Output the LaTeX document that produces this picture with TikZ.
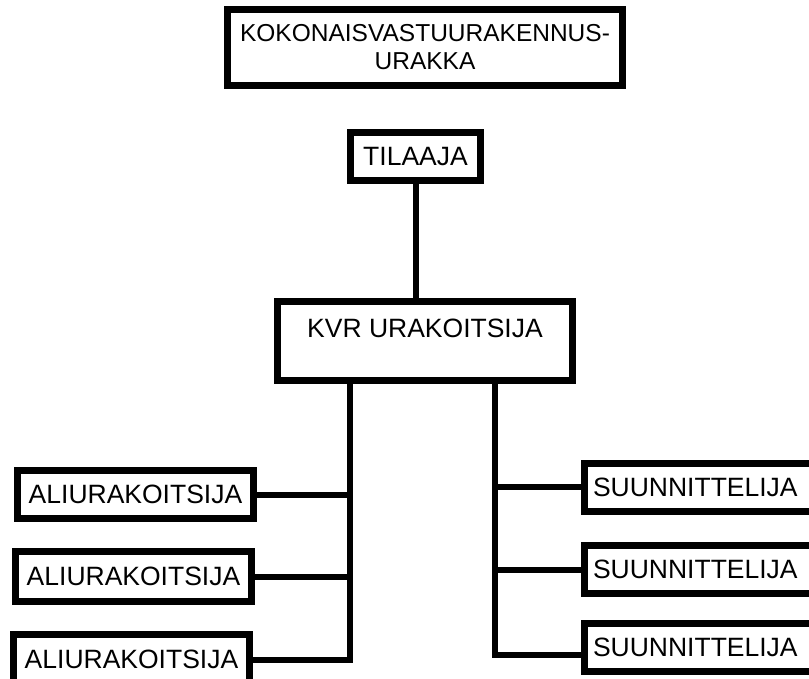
\documentclass[tikz,border=0pt]{standalone}
\usepackage{fontspec}
\setmainfont{Liberation Sans}
\begin{document}
\begin{tikzpicture}[x=1pt,y=-1pt,
  box/.style={draw, line width=7pt, rectangle, inner sep=0pt, font=\fontsize{26.5}{30}\selectfont},
  rbox/.style={box, anchor=west, text width=215pt, align=left, inner xsep=8.5pt, minimum height=48pt},
  link/.style={line width=6pt}]
\useasboundingbox (0,0) rectangle (809,678);
\clip (0,0) rectangle (809,678);
\node[box, line width=6.5pt, font=\fontsize{24.5}{28}\selectfont, align=center, minimum width=395pt, minimum height=76pt] (title) at (425,47.5) {KOKONAISVASTUURAKENNUS-\\URAKKA};
\node[box, minimum width=130pt, minimum height=48pt] (tilaaja) at (415.5,156.5) {TILAAJA};
\node[box, minimum width=295pt, text height=35.5pt, text depth=43.5pt] (kvr) at (425,341) {KVR URAKOITSIJA};
\node[box, minimum width=236pt, minimum height=48pt] (l1) at (135.5,494.5) {ALIURAKOITSIJA};
\node[box, minimum width=236pt, minimum height=50pt] (l2) at (133.5,576.5) {ALIURAKOITSIJA};
\node[box, anchor=north, minimum width=236pt, text height=34.5pt, text depth=25.5pt] (l3) at (131.5,630.5) {ALIURAKOITSIJA};
\node[rbox] (r1) at (581,487) {SUUNNITTELIJA};
\node[rbox] (r2) at (581,569.5) {SUUNNITTELIJA};
\node[rbox] (r3) at (581,647.5) {SUUNNITTELIJA};
\coordinate (kl) at ([xshift=-75pt]kvr.south);
\coordinate (kr) at ([xshift=70pt]kvr.south);
\coordinate (jl) at (350,660);
\coordinate (jr) at (495,655);
\draw[link] (tilaaja.south) -- (tilaaja.south |- kvr.north);
\draw[link] (kl) -- (jl) -- (jl -| l3.east);
\draw[link] (l1.east) -- (l1.east -| kl);
\draw[link] (l2.east) -- (l2.east -| kl);
\draw[link] (kr) -- (jr) -- (jr -| r3.west);
\draw[link] (r1.west) -- (r1.west -| kr);
\draw[link] (r2.west) -- (r2.west -| kr);
\end{tikzpicture}
\end{document}
